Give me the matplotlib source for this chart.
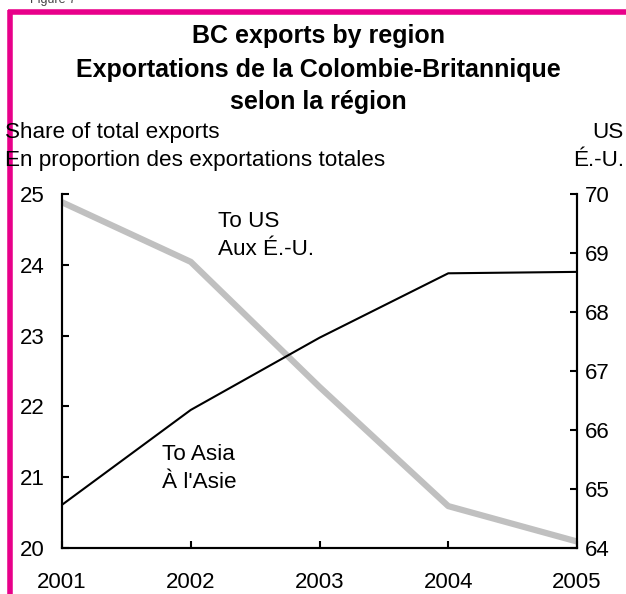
import matplotlib
matplotlib.use("Agg")
import matplotlib.pyplot as plt
from matplotlib.lines import Line2D

plt.rcParams['font.family'] = ['Liberation Sans', 'DejaVu Sans']

years = [2001, 2002, 2003, 2004, 2005]
asia_share = [20.61, 21.95, 22.97, 23.88, 23.90]   # left axis
us_share = [69.86, 68.85, 66.73, 64.71, 64.11]     # right axis
left_ticks = [20, 21, 22, 23, 24, 25]
right_ticks = [64, 65, 66, 67, 68, 69, 70]

W, H = 626, 594
fig = plt.figure(figsize=(W / 100, H / 100), dpi=100)

def fx(px):
    return px / W

def fy(py):
    return 1 - py / H

pink = '#E8008A'
fig.add_artist(Line2D([fx(10), fx(10)], [fy(10), fy(600)], color=pink, lw=4, transform=fig.transFigure, solid_capstyle='butt'))
fig.add_artist(Line2D([fx(8), fx(630)], [fy(12), fy(12)], color=pink, lw=4, transform=fig.transFigure, solid_capstyle='butt'))
fig.text(fx(30), fy(3), 'Figure 7', fontsize=9, color='#444444', ha='left', va='baseline')

ax = fig.add_axes([fx(62), fy(548), fx(577) - fx(62), fy(194) - fy(548)])
ax2 = ax.twinx()

ax.plot(years, asia_share, color='black', lw=1.5, zorder=3)
ax2.plot(years, us_share, color='#C0C0C0', lw=4.5, zorder=2)
ax.set_zorder(ax2.get_zorder() + 1)
ax.patch.set_visible(False)

ax.set_xlim(2001, 2005)
ax.set_ylim(20, 25)
ax2.set_ylim(64, 70)
ax.set_xticks(years)
ax.set_yticks(left_ticks)
ax2.set_yticks(right_ticks)

fs = 16.2
for a in (ax, ax2):
    for s in a.spines.values():
        s.set_linewidth(1.5)
    a.spines['top'].set_visible(False)
    a.tick_params(direction='in', length=5, width=1.5, labelsize=16)
ax.tick_params(axis='x', pad=17)
ax.tick_params(axis='y', pad=12.5)
ax2.tick_params(axis='y', pad=6)

fs_title = 18
fig.text(fx(318), fy(43.5), 'BC exports by region', fontsize=fs_title, fontweight='bold', ha='center', va='baseline')
fig.text(fx(318), fy(76.5), 'Exportations de la Colombie-Britannique', fontsize=fs_title, fontweight='bold', ha='center', va='baseline')
fig.text(fx(318), fy(108.5), 'selon la région', fontsize=fs_title, fontweight='bold', ha='center', va='baseline')

fig.text(fx(5), fy(138), 'Share of total exports', fontsize=fs, ha='left', va='baseline')
fig.text(fx(5), fy(166), 'En proportion des exportations totales', fontsize=fs, ha='left', va='baseline')
fig.text(fx(624), fy(138), 'US', fontsize=fs, ha='right', va='baseline')
fig.text(fx(624), fy(166), 'É.-U.', fontsize=fs, ha='right', va='baseline')

fig.text(fx(218), fy(227), 'To US', fontsize=fs, ha='left', va='baseline')
fig.text(fx(218), fy(255), 'Aux É.-U.', fontsize=fs, ha='left', va='baseline')
fig.text(fx(162), fy(460), 'To Asia', fontsize=fs, ha='left', va='baseline')
fig.text(fx(162), fy(488), "À l'Asie", fontsize=fs, ha='left', va='baseline')

fig.savefig('out.png', dpi=100)
